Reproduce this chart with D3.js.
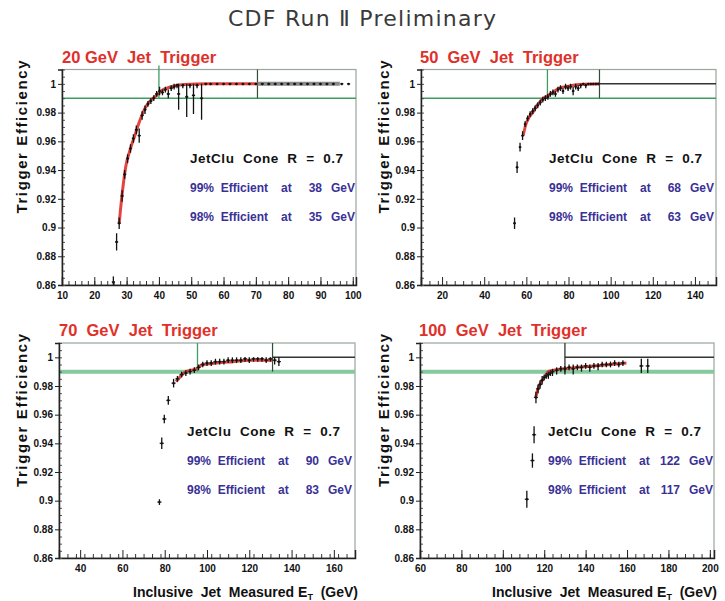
<!DOCTYPE html>
<html>
<head>
<meta charset="utf-8">
<script src="https://cdn.jsdelivr.net/npm/d3@7"></script>
<style>
  html, body { margin: 0; padding: 0; background: #fff; }
  svg { display: block; }
  .root { font-family: "Liberation Sans", Arial, sans-serif; font-weight: bold; }
</style>
</head>
<body>
<svg id="chart" width="725" height="601"></svg>
<script>
// ---- data ----
const panelTitles = ["20 GeV  Jet  Trigger", "50  GeV  Jet  Trigger", "70  GeV  Jet  Trigger", "100  GeV  Jet  Trigger"];
const xDomains = [[10, 101], [10, 150], [30, 170], [60, 202]];
const xTickValues = [
  [10, 20, 30, 40, 50, 60, 70, 80, 90, 100],
  [20, 40, 60, 80, 100, 120, 140],
  [40, 60, 80, 100, 120, 140, 160],
  [60, 80, 100, 120, 140, 160, 180, 200]
];
const xMinorStep = [2, 4, 4, 4];
const yDomain = [0.86, 1.01];
const yTickValues = [0.86, 0.88, 0.9, 0.92, 0.94, 0.96, 0.98, 1];
const yTickLabels = ["0.86", "0.88", "0.9", "0.92", "0.94", "0.96", "0.98", "1"];
const eff99 = [38, 68, 90, 122];
const eff98 = [35, 63, 83, 117];
const threshold = 0.99;
const plateau = 1.0;
const turnOnX = [40, 70, 95.5, 130];
const fitEndX = [70.5, 94.7, 131, 130];
const plateauEndX = [96, 150, 170, 202];
const binHalf = [0.5, 0.6, 1, 1];

// fitted turn-on curves [E_T, efficiency]
const fit20 = [[27.7,0.903],[28.7,0.925],[29.7,0.942],[31.2,0.955],[32.7,0.965],[33.7,0.972],[34.7,0.978],[35.7,0.983],[37.2,0.988],[38.7,0.991],[40.7,0.995],[43.8,0.998],[47.9,0.9995],[55,1.0],[62,1.0],[70.5,1.0]];
const fit50 = [[58.5,0.964],[59.8,0.972],[61.4,0.977],[63,0.980],[64.5,0.984],[66.2,0.987],[68,0.990],[69.4,0.991],[72.5,0.994],[75.7,0.997],[78.9,0.998],[85,0.9995],[94.7,1.0]];
const fit70 = [[85.4,0.983],[87,0.986],[90,0.990],[94.9,0.992],[98,0.995],[104.4,0.996],[112.3,0.997],[120.2,0.998],[126.5,0.998],[131,0.998]];
const fit100 = [[115.9,0.972],[116.8,0.977],[117.8,0.981],[119.1,0.984],[120.5,0.987],[122,0.990],[124.7,0.991],[129.4,0.992],[135.8,0.993],[143.8,0.994],[151.7,0.995],[159.7,0.996]];

// measured efficiencies [E_T, efficiency, error down, error up]
const eff20 = [
  [25.9,0.862,0.004,0.004],[26.9,0.890,0.006,0.006],[27.7,0.903,0.004,0.004],[28.6,0.922,0.004,0.004],
  [29.4,0.937,0.003,0.003],[30.3,0.948,0.003,0.003],[31.2,0.955,0.003,0.003],[32.1,0.962,0.003,0.003],
  [33.0,0.968,0.003,0.003],[33.9,0.964,0.005,0.005],[34.8,0.978,0.003,0.003],[35.7,0.982,0.003,0.003],
  [36.6,0.986,0.002,0.002],[37.5,0.988,0.002,0.002],[38.4,0.990,0.002,0.002],[39.3,0.993,0.002,0.002],
  [40.2,0.995,0.003,0.003],[41.1,0.994,0.002,0.002],[42.0,0.996,0.002,0.002],[42.9,0.993,0.003,0.003],
  [43.8,0.997,0.002,0.002],[44.7,0.998,0.002,0.002],[45.6,0.999,0.002,0.001],[46.1,0.993,0.011,0.007],
  [47.4,0.999,0.002,0.001],[48.6,0.991,0.014,0.009],[49.6,0.999,0.002,0.001],[50.7,0.992,0.013,0.008],
  [51.8,0.999,0.002,0.001],[53.2,0.990,0.015,0.010],[54.5,1.0,0.001,0],[56,1.0,0.001,0],[58,1.0,0.001,0],
  [60,1.0,0.001,0],[62,1.0,0.001,0],[64,1.0,0.001,0],[66,1.0,0.001,0],[68,1.0,0.001,0],[70,1.0,0.001,0],
  [72,1.0,0.001,0],[74,1.0,0.001,0],[76,1.0,0.001,0],[78,1.0,0.001,0],[80,1.0,0.001,0],[82,1.0,0.001,0],
  [84,1.0,0.001,0],[86,1.0,0.001,0],[88,1.0,0.001,0],[90,1.0,0.001,0],[92,1.0,0.001,0],[94,1.0,0.001,0],
  [96.6,1.0,0.001,0],[98.7,1.0,0.001,0]
];
const eff50 = [
  [54.4,0.903,0.004,0.004],[55.6,0.942,0.004,0.004],[57.0,0.956,0.003,0.003],[58.2,0.964,0.003,0.003],
  [59.4,0.972,0.002,0.002],[60.6,0.976,0.002,0.002],[61.8,0.979,0.002,0.002],[63.0,0.981,0.002,0.002],
  [64.2,0.983,0.002,0.002],[65.4,0.985,0.002,0.002],[66.6,0.987,0.002,0.002],[67.8,0.989,0.002,0.002],
  [69.0,0.990,0.002,0.002],[70.2,0.991,0.002,0.002],[71.4,0.993,0.002,0.002],[72.6,0.994,0.002,0.002],
  [73.8,0.993,0.002,0.002],[75.0,0.996,0.002,0.002],[76.2,0.997,0.002,0.002],[77.4,0.995,0.002,0.002],
  [78.6,0.998,0.002,0.002],[79.8,0.997,0.002,0.002],[81.0,0.998,0.002,0.002],[82.2,0.995,0.003,0.003],
  [83.4,0.998,0.002,0.002],[84.6,0.997,0.002,0.002],[85.8,0.999,0.002,0.001],[87.0,1.0,0.001,0],
  [88.2,0.999,0.002,0.001],[89.4,1.0,0.001,0],[90.6,1.0,0.001,0],[91.8,1.0,0.001,0],[93.0,1.0,0.001,0],
  [94.2,1.0,0.001,0]
];
const eff70 = [
  [77.5,0.899,0.002,0.002],[78.6,0.940,0.004,0.004],[79.8,0.957,0.003,0.003],[81.7,0.970,0.003,0.003],
  [84.2,0.982,0.003,0.003],[86,0.985,0.002,0.002],[88,0.988,0.002,0.002],[90,0.989,0.002,0.002],
  [92,0.990,0.002,0.002],[94,0.991,0.002,0.002],[96,0.993,0.002,0.002],[98,0.995,0.002,0.002],
  [100,0.996,0.002,0.002],[102,0.996,0.002,0.002],[104,0.997,0.002,0.002],[106,0.997,0.002,0.002],
  [108,0.997,0.002,0.002],[110,0.998,0.002,0.002],[112,0.998,0.002,0.002],[114,0.998,0.002,0.002],
  [116,0.998,0.002,0.002],[118,0.999,0.002,0.001],[120,0.998,0.002,0.002],[122,0.999,0.002,0.001],
  [124,0.999,0.002,0.001],[126,0.999,0.002,0.001],[128,0.998,0.002,0.002],[130,0.999,0.002,0.001],
  [132,0.998,0.003,0.002],[134,0.997,0.003,0.003]
];
const eff100 = [
  [111.6,0.901,0.006,0.006],[114.3,0.928,0.005,0.005],[115.1,0.946,0.006,0.006],[116,0.972,0.004,0.004],
  [117,0.978,0.003,0.003],[118,0.981,0.003,0.003],[119,0.984,0.003,0.003],[120,0.986,0.002,0.002],
  [121,0.987,0.002,0.002],[122,0.988,0.003,0.002],[123,0.989,0.002,0.002],[124,0.990,0.003,0.002],
  [126,0.991,0.003,0.002],[128,0.992,0.002,0.002],[130,0.992,0.004,0.002],[132,0.993,0.002,0.002],
  [134,0.992,0.004,0.003],[136,0.993,0.002,0.002],[138,0.993,0.003,0.002],[140,0.994,0.002,0.002],
  [142,0.993,0.003,0.002],[144,0.994,0.002,0.002],[146,0.994,0.003,0.002],[148,0.995,0.002,0.002],
  [150,0.995,0.002,0.002],[152,0.995,0.002,0.002],[154,0.996,0.002,0.002],[156,0.995,0.002,0.002],
  [158,0.996,0.002,0.002],[166.9,0.994,0.005,0.005],[170,0.994,0.005,0.005]
];

const fits = [fit20, fit50, fit70, fit100];
const effs = [eff20, eff50, eff70, eff100];

// ---- layout ----
const pads = [
  {x: 0, y: 0, w: 362, h: 300},
  {x: 362, y: 0, w: 363, h: 300},
  {x: 0, y: 300, w: 362, h: 301},
  {x: 362, y: 300, w: 363, h: 301}
];
const frames = [
  {x0: 62, x1: 356, y0: 69.5, y1: 285},
  {x0: 421, x1: 716, y0: 69.5, y1: 285},
  {x0: 59, x1: 355, y0: 343, y1: 558},
  {x0: 420, x1: 714, y0: 343, y1: 558}
];
const showXTitle = [false, false, true, true];

const red = "#e0302a";
const blue = "#3a3196";
const green = "#3f9d62";

const svg = d3.select("#chart");
svg.append("rect").attr("width", 725).attr("height", 601).attr("fill", "#fff");

svg.append("text")
  .attr("x", 362).attr("y", 26)
  .attr("text-anchor", "middle")
  .attr("font-family", "'DejaVu Sans', Verdana, sans-serif")
  .attr("font-size", 22)
  .attr("fill", "#3a3a3a")
  .attr("textLength", 268).attr("lengthAdjust", "spacing")
  .text("CDF Run \u2161 Preliminary");

const defs = svg.append("defs");

pads.forEach((pad, i) => {
  const f = frames[i];
  defs.append("clipPath").attr("id", "pad" + i)
    .append("rect").attr("x", pad.x).attr("y", pad.y).attr("width", pad.w).attr("height", pad.h);
  defs.append("clipPath").attr("id", "frame" + i)
    .append("rect").attr("x", f.x0).attr("y", f.y0 - 4).attr("width", f.x1 - f.x0).attr("height", f.y1 - f.y0 + 4);

  const g = svg.append("g").attr("class", "root").attr("clip-path", `url(#pad${i})`);

  const x = d3.scaleLinear().domain(xDomains[i]).range([f.x0, f.x1]);
  const y = d3.scaleLinear().domain(yDomain).range([f.y1, f.y0]);

  // frame box
  g.append("rect")
    .attr("x", f.x0).attr("y", f.y0)
    .attr("width", f.x1 - f.x0).attr("height", f.y1 - f.y0)
    .attr("fill", "none").attr("stroke", "#9aa69c").attr("stroke-width", 1.2);

  // threshold line at 99%
  const thick = i >= 2;
  g.append("line")
    .attr("x1", f.x0).attr("x2", f.x1)
    .attr("y1", y(threshold)).attr("y2", y(threshold))
    .attr("stroke", thick ? "#86c99e" : green)
    .attr("stroke-width", thick ? 4 : 1.6);

  // turn-on and fit-range markers
  g.append("line")
    .attr("x1", x(turnOnX[i])).attr("x2", x(turnOnX[i]))
    .attr("y1", y(threshold)).attr("y2", f.y0 - (i === 0 ? 4 : 0))
    .attr("stroke", i === 3 ? "#333" : green).attr("stroke-width", 1.3);
  if (fitEndX[i] !== turnOnX[i]) {
    g.append("line")
      .attr("x1", x(fitEndX[i])).attr("x2", x(fitEndX[i]))
      .attr("y1", y(threshold)).attr("y2", f.y0)
      .attr("stroke", "#2f4f3a").attr("stroke-width", 1.2);
  }
  // plateau line at 100%
  g.append("line")
    .attr("x1", x(fitEndX[i])).attr("x2", x(plateauEndX[i]))
    .attr("y1", y(plateau)).attr("y2", y(plateau))
    .attr("stroke", i === 0 ? "#8a8a8a" : "#333")
    .attr("stroke-width", i === 0 ? 4 : 1.5);

  const plot = g.append("g").attr("clip-path", `url(#frame${i})`);

  // fitted curve
  const line = d3.line().x(d => x(d[0])).y(d => y(d[1])).curve(d3.curveMonotoneX);
  plot.append("path").datum(fits[i])
    .attr("d", line)
    .attr("fill", "none").attr("stroke", red).attr("stroke-width", 3).attr("stroke-opacity", 0.9);

  // measured points with error bars
  const pts = plot.append("g").selectAll("g").data(effs[i]).join("g");
  pts.append("line")
    .attr("x1", d => x(d[0])).attr("x2", d => x(d[0]))
    .attr("y1", d => y(d[1] - d[2])).attr("y2", d => y(d[1] + d[3]))
    .attr("stroke", "#111").attr("stroke-width", 1.3);
  pts.append("line")
    .attr("x1", d => x(d[0] - binHalf[i])).attr("x2", d => x(d[0] + binHalf[i]))
    .attr("y1", d => y(d[1])).attr("y2", d => y(d[1]))
    .attr("stroke", "#333").attr("stroke-width", 1.2);
  pts.append("circle")
    .attr("cx", d => x(d[0])).attr("cy", d => y(d[1]))
    .attr("r", 1.2).attr("fill", "#111");

  // axes
  const xMinor = d3.range(xDomains[i][0], xDomains[i][1] + 0.001, xMinorStep[i]);
  g.append("g").attr("transform", `translate(0,${f.y1})`)
    .call(d3.axisBottom(x).tickValues(xMinor).tickSize(-4).tickFormat(""))
    .call(a => a.select(".domain").remove())
    .call(a => a.selectAll("line").attr("stroke", "#333"));
  g.append("g").attr("transform", `translate(0,${f.y1})`)
    .call(d3.axisBottom(x).tickValues(xTickValues[i]).tickSize(-8).tickPadding(7).tickFormat(d3.format("d")))
    .call(a => a.select(".domain").attr("stroke", "#222").attr("stroke-width", 1.5))
    .call(a => a.selectAll("line").attr("stroke", "#222"))
    .call(a => a.selectAll("text").attr("font-size", 10).attr("font-weight", "bold")
      .attr("font-family", "'Liberation Sans', Arial, sans-serif").attr("fill", "#111"));

  const yMinor = d3.range(0, 31).map(k => 0.86 + k * 0.005);
  g.append("g").attr("transform", `translate(${f.x0},0)`)
    .call(d3.axisLeft(y).tickValues(yMinor).tickSize(-3).tickFormat(""))
    .call(a => a.select(".domain").remove())
    .call(a => a.selectAll("line").attr("stroke", "#555"));
  g.append("g").attr("transform", `translate(${f.x0},0)`)
    .call(d3.axisLeft(y).tickValues(yTickValues).tickSize(4).tickPadding(2)
      .tickFormat((d, k) => yTickLabels[k]))
    .call(a => a.select(".domain").attr("stroke", "#222").attr("stroke-width", 1.5))
    .call(a => a.selectAll("line").attr("stroke", "#222"))
    .call(a => a.selectAll("text").attr("font-size", 10).attr("font-weight", "bold")
      .attr("font-family", "'Liberation Sans', Arial, sans-serif").attr("fill", "#111"));

  // y-axis title
  g.append("text")
    .attr("transform", `translate(${pad.x + 27},${f.y0 - 9}) rotate(-90)`)
    .attr("text-anchor", "end")
    .attr("font-size", 15)
    .attr("fill", "#111")
    .attr("textLength", 153).attr("lengthAdjust", "spacing")
    .text("Trigger  Efficiency");

  // panel title
  g.append("text")
    .attr("x", f.x0 - (i % 2 === 1 ? 1 : 0)).attr("y", f.y0 - 7)
    .attr("font-size", 16.5)
    .attr("fill", red)
    .style("white-space", "pre")
    .text(panelTitles[i]);

  // x-axis title
  if (showXTitle[i]) {
    const t = g.append("text")
      .attr("x", f.x1 + 3).attr("y", 597)
      .attr("text-anchor", "end")
      .attr("font-size", 14)
      .attr("fill", "#111")
      .style("white-space", "pre");
    t.append("tspan").text("Inclusive  Jet  Measured E");
    t.append("tspan").attr("font-size", 9).attr("dy", 3).text("T");
    t.append("tspan").attr("dy", -3).text("  (GeV)");
  }

  // legend
  const lx = f.x0 + 128;
  const ly = f.y0 + 93;
  g.append("text")
    .attr("x", lx).attr("y", ly)
    .attr("font-size", 13.5).attr("fill", "#111")
    .attr("textLength", 153).attr("lengthAdjust", "spacing")
    .style("white-space", "pre")
    .text("JetClu  Cone  R  =  0.7");
  [[99, eff99[i]], [98, eff98[i]]].forEach(([pct, val], k) => {
    const yy = ly + 29 + k * 29;
    g.append("text").attr("x", lx).attr("y", yy)
      .attr("font-size", 12).attr("fill", blue)
      .style("white-space", "pre")
      .text(pct + "%  Efficient");
    g.append("text").attr("x", lx + 91).attr("y", yy)
      .attr("font-size", 12).attr("fill", blue).text("at");
    g.append("text").attr("x", lx + 132).attr("y", yy)
      .attr("text-anchor", "end")
      .attr("font-size", 12).attr("fill", blue).text(val);
    g.append("text").attr("x", lx + 141).attr("y", yy)
      .attr("font-size", 12).attr("fill", blue).text("GeV");
  });
});
</script>
</body>
</html>
